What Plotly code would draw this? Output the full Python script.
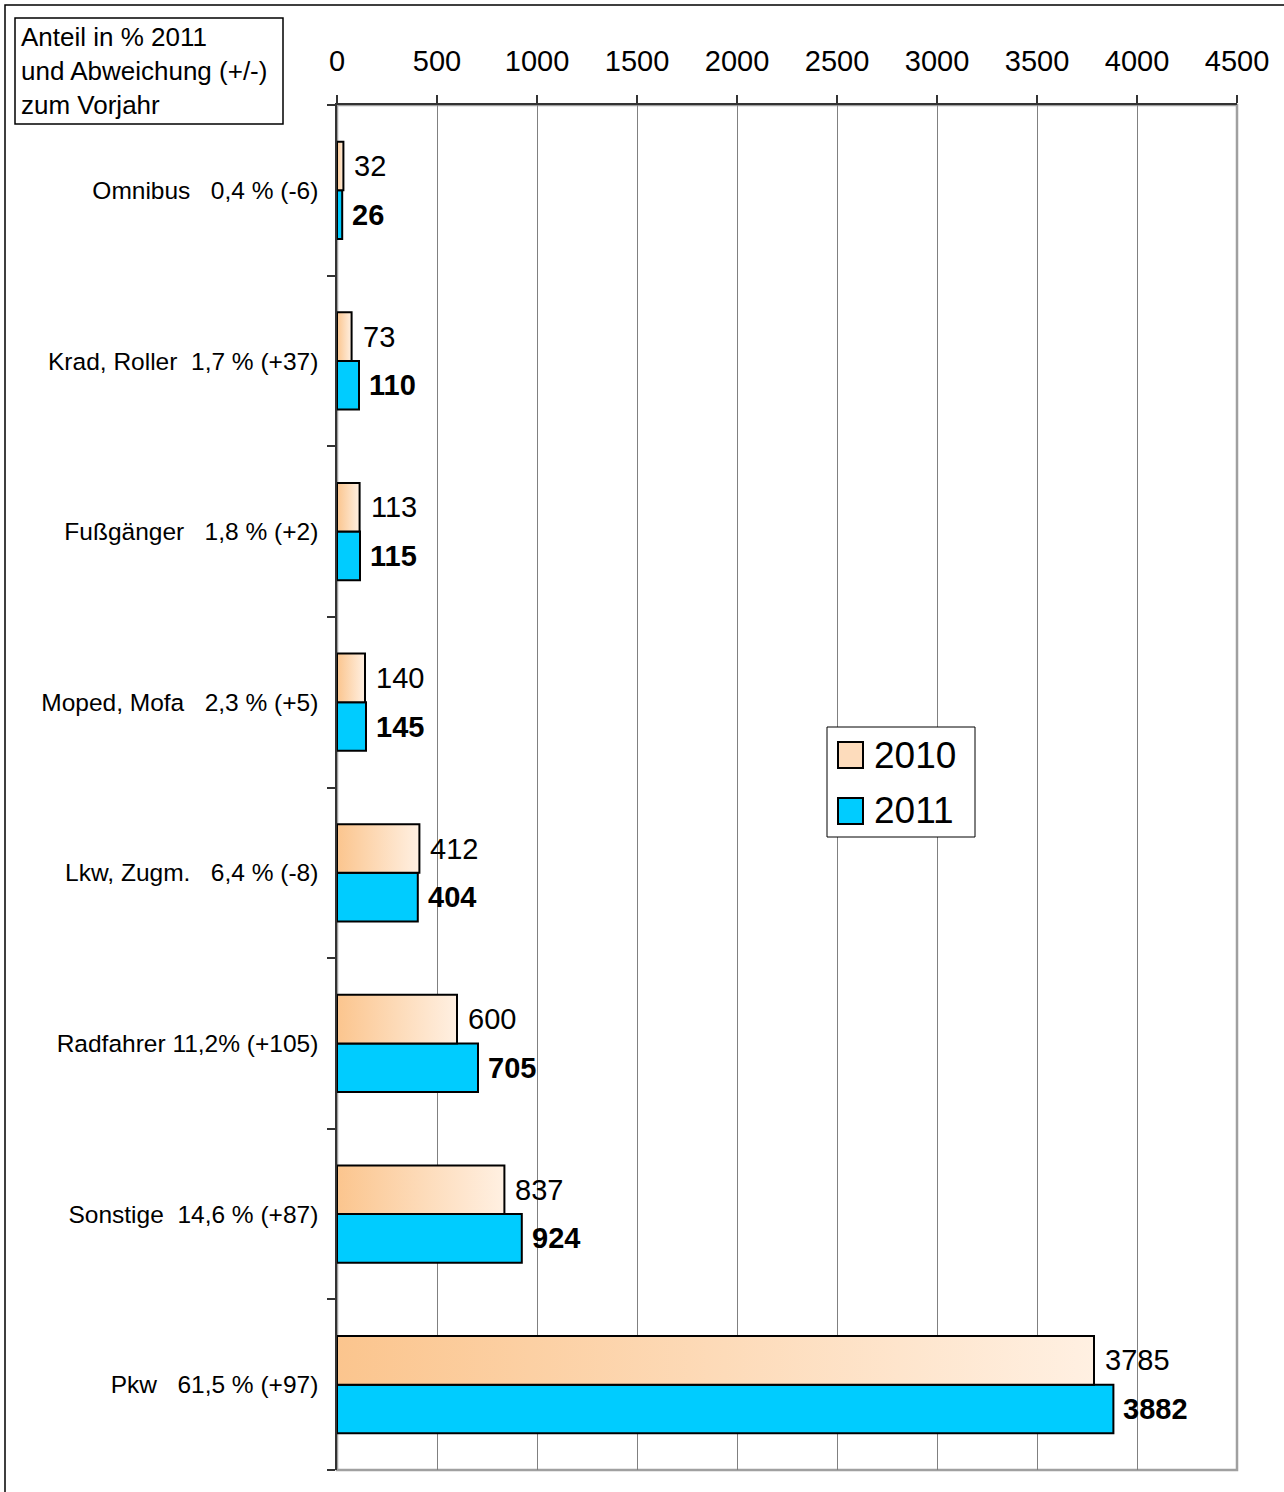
import plotly.graph_objects as go

# Verkehrsbeteiligung, Kategorien von oben nach unten
kategorien = [
    "Omnibus   0,4 % (-6)",
    "Krad, Roller  1,7 % (+37)",
    "Fußgänger   1,8 % (+2)",
    "Moped, Mofa   2,3 % (+5)",
    "Lkw, Zugm.   6,4 % (-8)",
    "Radfahrer 11,2% (+105)",
    "Sonstige  14,6 % (+87)",
    "Pkw   61,5 % (+97)",
]
werte_2010 = [32, 73, 113, 140, 412, 600, 837, 3785]
werte_2011 = [26, 110, 115, 145, 404, 705, 924, 3882]
x_ticks = [0, 500, 1000, 1500, 2000, 2500, 3000, 3500, 4000, 4500]

FONT = "Liberation Sans, Arial, sans-serif"
BAR_H = 0.285
pos = list(range(len(kategorien)))

fig = go.Figure()

# 2010: Balken mit Farbverlauf (je Balken ein Polygon)
for i, v in zip(pos, werte_2010):
    y0, y1 = i - BAR_H, i
    fig.add_scatter(
        x=[0, v, v, 0, 0], y=[y0, y0, y1, y1, y0],
        mode="lines", fill="toself",
        fillgradient=dict(type="horizontal",
                          colorscale=[[0, "#FBC58E"], [1, "#FFF0E2"]]),
        line=dict(color="black", width=2),
        showlegend=False, hoverinfo="skip",
    )

# 2011: einfache Balken
fig.add_bar(
    x=werte_2011, y=[i + BAR_H / 2 for i in pos], width=BAR_H,
    orientation="h", marker=dict(color="#00CCFF", line=dict(color="black", width=2)),
    showlegend=False,
)

# Datenbeschriftungen
for i, v in zip(pos, werte_2010):
    fig.add_annotation(x=v, y=i - BAR_H / 2, text=str(v), showarrow=False,
                       xanchor="left", xshift=9,
                       font=dict(family=FONT, size=29, color="black"))
for i, v in zip(pos, werte_2011):
    fig.add_annotation(x=v, y=i + BAR_H / 2, text="<b>%d</b>" % v, showarrow=False,
                       xanchor="left", xshift=8,
                       font=dict(family=FONT, size=29, color="black"))

W, H = 1284, 1492
L, R, T, B = 337, 47, 105, 22
pw, ph = W - L - R, H - T - B


def px(x):
    return (x - L) / pw


def py(y):
    return (H - B - y) / ph


shapes = [
    # Rahmen Diagrammfläche
    dict(type="rect", xref="x domain", yref="y domain", x0=0, x1=1, y0=0, y1=1,
         line=dict(color="#A0A0A0", width=2.5), layer="below"),
    # Außenrahmen
    dict(type="rect", xref="paper", yref="paper", x0=px(5), x1=px(1300), y0=py(1510), y1=py(5),
         line=dict(color="black", width=1.5)),
    # Titelkasten
    dict(type="rect", xref="paper", yref="paper", x0=px(15), x1=px(283), y0=py(124), y1=py(18),
         line=dict(color="black", width=1.5), fillcolor="white"),
    # Legende
    dict(type="rect", xref="paper", yref="paper", x0=px(827), x1=px(975), y0=py(837), y1=py(727),
         line=dict(color="black", width=1), fillcolor="white"),
    dict(type="rect", xref="paper", yref="paper", x0=px(838), x1=px(863), y0=py(768), y1=py(742),
         line=dict(color="black", width=2), fillcolor="#FDDCBC"),
    dict(type="rect", xref="paper", yref="paper", x0=px(838), x1=px(863), y0=py(824), y1=py(798),
         line=dict(color="black", width=2), fillcolor="#00CCFF"),
]

fig.add_annotation(xref="paper", yref="paper", x=px(19), y=py(20), xanchor="left", yanchor="top",
                   align="left", showarrow=False,
                   text="Anteil in % 2011<br>und Abweichung (+/-)<br>zum Vorjahr",
                   font=dict(family=FONT, size=26, color="black"))
fig.add_annotation(xref="paper", yref="paper", x=px(872), y=py(755), xanchor="left", yanchor="middle",
                   showarrow=False, text="2010", font=dict(family=FONT, size=37, color="black"))
fig.add_annotation(xref="paper", yref="paper", x=px(872), y=py(811), xanchor="left", yanchor="middle",
                   showarrow=False, text="2011", font=dict(family=FONT, size=37, color="black"))

fig.update_layout(
    width=W, height=H, autosize=False,
    margin=dict(l=L, r=R, t=T, b=B, pad=0),
    paper_bgcolor="white", plot_bgcolor="white",
    shapes=shapes,
    font=dict(family=FONT, color="black"),
    xaxis=dict(
        side="top", range=[0, 4500], tickvals=x_ticks,
        showgrid=True, gridcolor="#808080", gridwidth=1,
        showline=True, linecolor="#333333", linewidth=1.5,
        ticks="outside", ticklen=8, tickcolor="#333333", tickwidth=1.5,
        ticklabelstandoff=13,
        tickfont=dict(family=FONT, size=29, color="black"),
        zeroline=False, fixedrange=True,
    ),
    yaxis=dict(
        range=[len(kategorien) - 0.5, -0.5],
        tickvals=pos, ticktext=[k.replace(" ", "\u00a0") for k in kategorien],
        ticks="", showgrid=False, zeroline=False,
        showline=True, linecolor="#333333", linewidth=1.5,
        ticklabelstandoff=12,
        tickfont=dict(family=FONT, size=24.5, color="black"),
        minor=dict(tickvals=[i - 0.5 for i in range(len(kategorien) + 1)],
                   ticks="outside", ticklen=8, tickcolor="#333333", tickwidth=1.5, showgrid=False),
        fixedrange=True,
    ),
)

fig.write_html("out.html", config={"displayModeBar": False},
               post_script="document.body.style.margin='0px';")
